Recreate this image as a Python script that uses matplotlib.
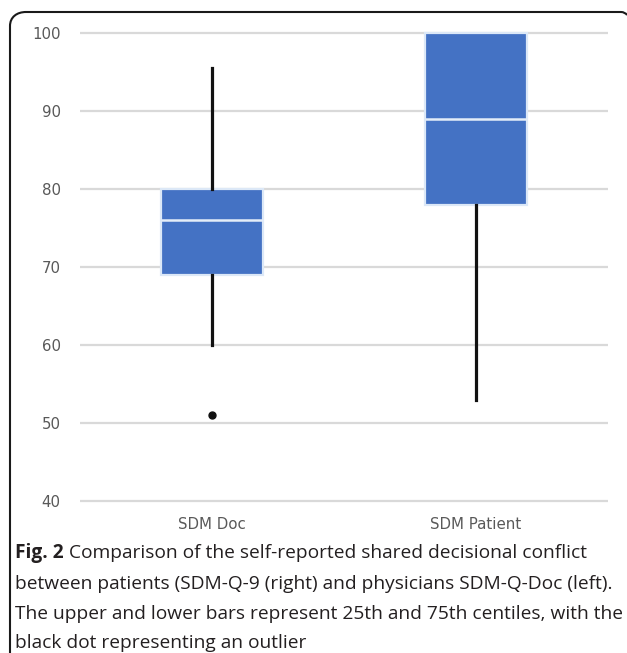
import matplotlib.pyplot as plt
from matplotlib.path import Path
from matplotlib.patches import PathPatch

# box plot summary values (SDM-Q-Doc vs SDM-Q-9)
groups = ['SDM Doc', 'SDM Patient']
whisker_low = [60, 53]
q1 = [69, 78]
median = [76, 89]
q3 = [80, 100]
whisker_high = [95.5, 100]
outliers = [[51], []]

yticks = [40, 50, 60, 70, 80, 90, 100]

caption_bold = 'Fig. 2'
caption_lines = [
    ' Comparison of the self-reported shared decisional conflict',
    'between patients (SDM-Q-9 (right) and physicians SDM-Q-Doc (left).',
    'The upper and lower bars represent 25th and 75th centiles, with the',
    'black dot representing an outlier',
]

W, H = 627, 653
fig = plt.figure(figsize=(W / 100, H / 100), dpi=100)

# axes placed in pixel terms: 40 -> y=501, 100 -> y=33
unit = (501 - 33) / 60
y_lo, y_hi = 39, 101
top_px = 33 - (y_hi - 100) * unit
bot_px = 501 + (40 - y_lo) * unit
ax = fig.add_axes([80 / W, 1 - bot_px / H, (608 - 80) / W, (bot_px - top_px) / H])

stats = []
for i, g in enumerate(groups):
    stats.append({
        'label': g, 'whislo': whisker_low[i], 'q1': q1[i], 'med': median[i],
        'q3': q3[i], 'whishi': whisker_high[i], 'fliers': outliers[i],
    })

ax.bxp(stats, positions=[1, 2], widths=0.39, patch_artist=True, showcaps=False,
       boxprops=dict(facecolor='#4472C4', edgecolor='#DCE8F7', linewidth=1.6),
       medianprops=dict(color='#E4EDF8', linewidth=1.8),
       whiskerprops=dict(color='#111111', linewidth=2.3),
       flierprops=dict(marker='o', markerfacecolor='#111111', markeredgecolor='#111111',
                       markersize=5),
       zorder=3)

ax.set_xlim(0.5, 2.5)
ax.set_ylim(y_lo, y_hi)
ax.set_yticks(yticks)
ax.grid(axis='y', color='#D9D9D9', linewidth=1.6, zorder=0)
ax.set_axisbelow(True)
for s in ax.spines.values():
    s.set_visible(False)
ax.tick_params(axis='both', length=0, labelsize=10.8, labelcolor='#595959')
ax.tick_params(axis='y', pad=14)
ax.tick_params(axis='x', pad=6)

# caption below the chart
cap_font = dict(family='Open Sans', size=13.8, color='#231F20')
line_y = [553, 584, 614, 643]
bold = fig.text(15 / W, 1 - line_y[0] / H, caption_bold, va='center', ha='left',
                fontweight='bold', **cap_font)
fig.canvas.draw()
bb = bold.get_window_extent()
fig.text(bb.x1 / W, 1 - line_y[0] / H, caption_lines[0], va='center', ha='left', **cap_font)
for y, txt in zip(line_y[1:], caption_lines[1:]):
    fig.text(15 / W, 1 - y / H, txt, va='center', ha='left', **cap_font)

# frame: top edge and left edge with rounded corner
verts = [(10, H), (10, 26), (10, 17), (17, 12), (26, 12), (621, 12), (625, 12),
         (627, 15)]
codes = [Path.MOVETO, Path.LINETO, Path.CURVE4, Path.CURVE4, Path.CURVE4,
         Path.LINETO, Path.CURVE3, Path.CURVE3]
frame = Path([(x / W, 1 - y / H) for x, y in verts], codes)
fig.add_artist(PathPatch(frame, transform=fig.transFigure, fill=False,
                         edgecolor='#1A1A1A', linewidth=1.5))

fig.savefig('out.png', dpi=100)
